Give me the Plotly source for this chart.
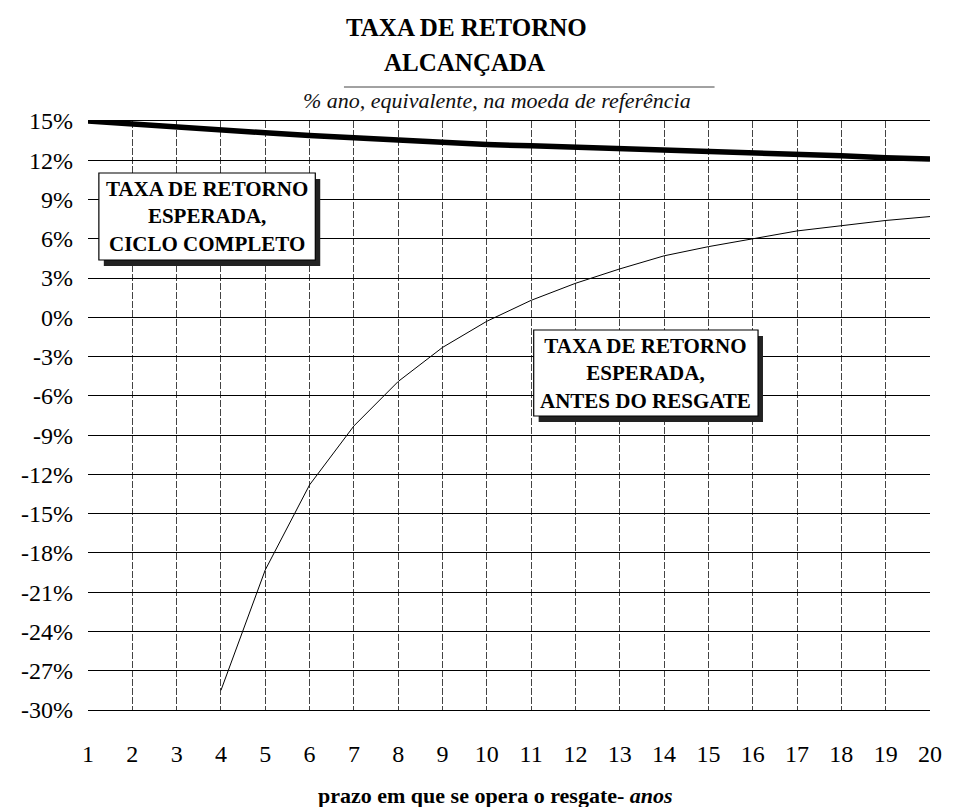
import plotly.graph_objects as go

# ---- data ----
years = list(range(1, 21))
taxa_ciclo_completo = [15.0, 14.75, 14.5, 14.3, 14.1, 13.9, 13.7, 13.5, 13.35, 13.2,
                       13.1, 13.0, 12.9, 12.85, 12.75, 12.6, 12.5, 12.35, 12.2, 12.1]
years_resgate = list(range(4, 21))
taxa_antes_resgate = [-28.5, -19.3, -12.8, -8.3, -4.9, -2.3, -0.3, 1.3, 2.6, 3.7,
                      4.7, 5.4, 6.0, 6.6, 7.0, 7.4, 7.7]
y_tick_vals = [15, 12, 9, 6, 3, 0, -3, -6, -9, -12, -15, -18, -21, -24, -27, -30]
y_tick_text = ["15%", "12%", "9%", "6%", "3%", "0%", "-3%", "-6%", "-9%", "-12%",
               "-15%", "-18%", "-21%", "-24%", "-27%", "-30%"]
x_tick_vals = years
x_tick_text = [str(v) for v in years]

# ---- layout geometry (pixels) ----
W, H = 954, 807
L, R, T, B = 88, 940, 121, 710


def px(x):
    return (x - L) / (R - L)


def py(y):
    return (B - y) / (B - T)


FONT = "Liberation Serif, Times New Roman, serif"

fig = go.Figure()
fig.add_trace(go.Scatter(x=years, y=taxa_ciclo_completo, mode="lines",
                         line=dict(color="black", width=5.5), showlegend=False))
fig.add_trace(go.Scatter(x=years_resgate, y=taxa_antes_resgate, mode="lines",
                         line=dict(color="black", width=1), showlegend=False))

shapes = []
annotations = []

# title rule
shapes.append(dict(type="line", xref="paper", yref="paper", x0=px(347), x1=px(722),
                   y0=py(87), y1=py(87), line=dict(color="#444", width=1)))

annotations += [
    dict(text="<b>TAXA DE RETORNO</b>", x=px(471), y=py(28)),
    dict(text="<b>ALCANÇADA</b>", x=px(469), y=py(62)),
]
for a in annotations:
    a.update(font=dict(family=FONT, size=25, color="black"))
annotations.append(dict(text="<i>% ano, equivalente, na moeda de referência</i>",
                        x=px(502), y=py(100),
                        font=dict(family=FONT, size=22, color="#111")))
annotations.append(dict(text="<b>prazo em que se opera o resgate- <i>anos</i></b>",
                        x=px(500), y=py(795),
                        font=dict(family=FONT, size=22, color="black")))


def box(x0, y0, x1, y1, text):
    shapes.append(dict(type="rect", xref="paper", yref="paper", layer="above",
                       x0=px(x0 + 5), x1=px(x1 + 5), y0=py(y0 + 6), y1=py(y1 + 6),
                       fillcolor="#222", line=dict(width=0)))
    shapes.append(dict(type="rect", xref="paper", yref="paper", layer="above",
                       x0=px(x0), x1=px(x1), y0=py(y0), y1=py(y1),
                       fillcolor="white", line=dict(color="black", width=1.2)))
    annotations.append(dict(text=text, x=px((x0 + x1) / 2), y=py((y0 + y1) / 2),
                            font=dict(family=FONT, size=21, color="black"),
                            align="center"))


box(99, 173, 318, 260, "<b>TAXA DE RETORNO<br>ESPERADA,<br>CICLO COMPLETO</b>")
box(539, 330, 766, 416, "<b>TAXA DE RETORNO<br>ESPERADA,<br>ANTES DO RESGATE</b>")

for a in annotations:
    a.update(xref="paper", yref="paper", showarrow=False,
             xanchor="center", yanchor="middle")

fig.update_layout(
    width=W, height=H,
    margin=dict(l=L, r=W - R, t=T, b=H - B),
    paper_bgcolor="white", plot_bgcolor="white",
    shapes=shapes, annotations=annotations,
    xaxis=dict(range=[1, 20], tickvals=x_tick_vals, ticktext=x_tick_text,
               showgrid=True, gridcolor="#444", griddash="7px,2px", gridwidth=1,
               zeroline=False, showline=True, linecolor="black", linewidth=1,
               mirror=True, ticks="", ticklabelstandoff=22,
               tickfont=dict(family=FONT, size=24, color="black")),
    yaxis=dict(range=[-30, 15], tickvals=y_tick_vals, ticktext=y_tick_text,
               showgrid=True, gridcolor="black", gridwidth=1,
               zeroline=False, showline=False, ticks="",
               ticklabelstandoff=14,
               tickfont=dict(family=FONT, size=24, color="black")),
)

fig.write_html("out.html")
